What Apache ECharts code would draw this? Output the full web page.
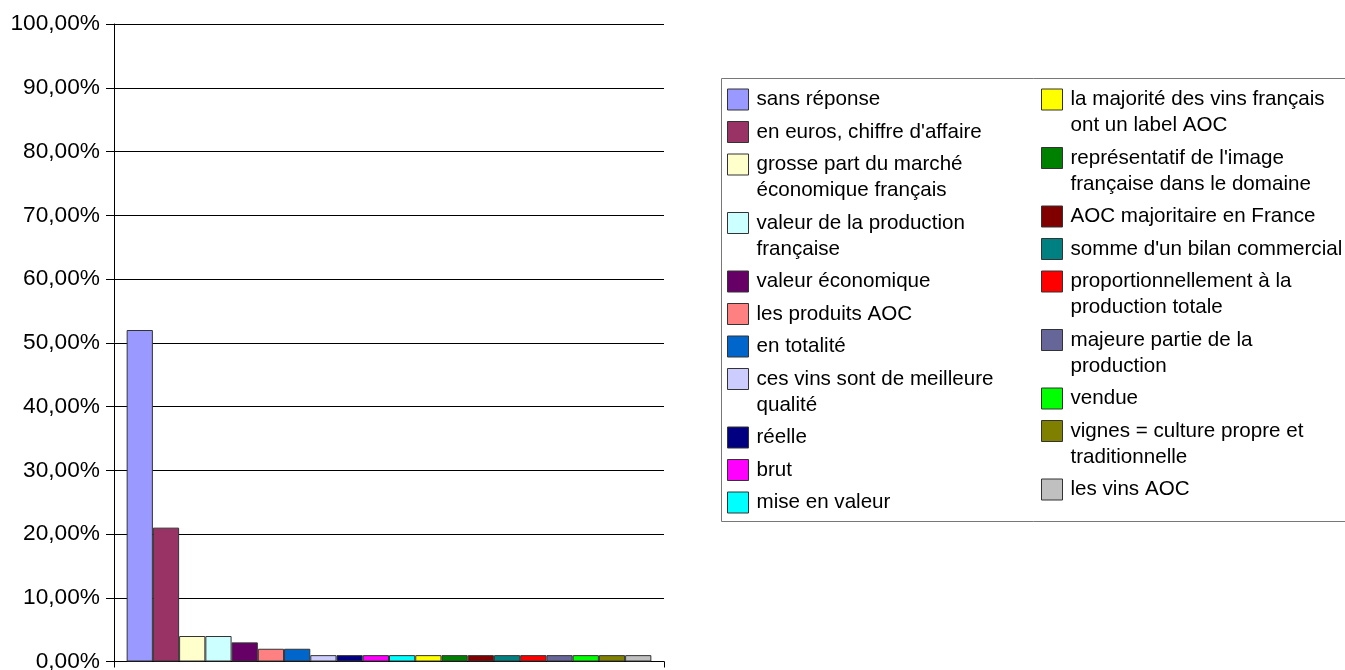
<!DOCTYPE html>
<html>
<head>
<meta charset="utf-8">
<script src="https://cdn.jsdelivr.net/npm/echarts@6/dist/echarts.min.js"></script>
<style>
  html, body { margin: 0; padding: 0; background: #fff; }
  #chart { width: 1345px; height: 670px; }
</style>
</head>
<body>
<div id="chart"></div>
<script>
// answers (legend order = bar order)
const categories = [
  'sans réponse',
  "en euros, chiffre d'affaire",
  'grosse part du marché\néconomique français',
  'valeur de la production\nfrançaise',
  'valeur économique',
  'les produits AOC',
  'en totalité',
  'ces vins sont de meilleure\nqualité',
  'réelle',
  'brut',
  'mise en valeur',
  'la majorité des vins français\nont un label AOC',
  "représentatif de l'image\nfrançaise dans le domaine",
  'AOC majoritaire en France',
  "somme d'un bilan commercial",
  'proportionnellement à la\nproduction totale',
  'majeure partie de la\nproduction',
  'vendue',
  'vignes = culture propre et\ntraditionnelle',
  'les vins AOC'
];

// percent of answers
const values = [52, 21, 4, 4, 3, 2, 2, 1, 1, 1, 1, 1, 1, 1, 1, 1, 1, 1, 1, 1];

const yTickLabels = ['0,00%', '10,00%', '20,00%', '30,00%', '40,00%', '50,00%',
  '60,00%', '70,00%', '80,00%', '90,00%', '100,00%'];

const palette = ['#9999ff', '#993366', '#ffffcc', '#ccffff', '#660066', '#ff8080',
  '#0066cc', '#ccccff', '#000080', '#ff00ff', '#00ffff', '#ffff00', '#008000',
  '#800000', '#008080', '#ff0000', '#666699', '#00ff00', '#808000', '#c0c0c0'];

const FONT = 'Liberation Sans';
const chart = echarts.init(document.getElementById('chart'));

// one legend per entry so two-line labels keep the swatch on their first line
// (an empty leading line balances the second one around the swatch)
const colLeft = [727, 1041];
const firstIconTop = 89;
const lineH = 26;
const gap = 6.5;
const legends = [];
let col = 0;
let iconTop = firstIconTop;
categories.forEach((name, i) => {
  if (i === 11) { col = 1; iconTop = firstIconTop; }
  const lines = name.split('\n');
  const rows = lines.map(l => '{t|' + l + '}');
  if (lines.length > 1) rows.unshift('{t| }');
  legends.push({
    data: [name],
    left: colLeft[col],
    top: iconTop - 2.5 - (lines.length - 1) * lineH,
    padding: 0,
    icon: 'rect',
    itemWidth: 21,
    itemHeight: 21,
    itemStyle: { borderColor: '#333', borderWidth: 1 },
    formatter: () => rows.join('\n'),
    textStyle: {
      fontFamily: FONT, fontSize: 20.6, color: '#000', lineHeight: lineH,
      rich: { t: { fontFamily: FONT, fontSize: 20.6, color: '#000', lineHeight: lineH, padding: [0, 0, 0, 3] } }
    }
  });
  iconTop += lines.length * lineH + gap;
});

const option = {
  animation: false,
  backgroundColor: '#fff',
  grid: { left: 114, right: 681, top: 24, bottom: 8.5, outerBoundsMode: 'none' },
  xAxis: {
    type: 'category',
    data: [''],
    axisLine: { lineStyle: { color: '#000', width: 1 } },
    axisTick: { show: true, length: 6, lineStyle: { color: '#000' } },
    axisLabel: { show: false },
    splitLine: { show: false }
  },
  yAxis: {
    type: 'value',
    min: 0,
    max: 100,
    interval: 10,
    axisLine: { show: true, lineStyle: { color: '#000', width: 1 } },
    axisTick: { show: true, length: 8, lineStyle: { color: '#000' } },
    axisLabel: {
      fontFamily: FONT, fontSize: 22.7, color: '#000', margin: 14,
      formatter: v => yTickLabels[Math.round(v / 10)]
    },
    splitLine: { lineStyle: { color: '#000', width: 1 } }
  },
  legend: legends,
  graphic: [{
    type: 'rect',
    silent: true,
    z: -1,
    shape: { x: 721.5, y: 78.5, width: 700, height: 443 },
    style: { fill: 'none', stroke: '#777', lineWidth: 1 }
  }],
  series: categories.map((name, i) => ({
    type: 'bar',
    name: name,
    data: [values[i]],
    barGap: '0%',
    barCategoryGap: '4.6%',
    itemStyle: { color: palette[i], borderColor: '#333', borderWidth: 1 }
  }))
};

chart.setOption(option);
</script>
</body>
</html>
